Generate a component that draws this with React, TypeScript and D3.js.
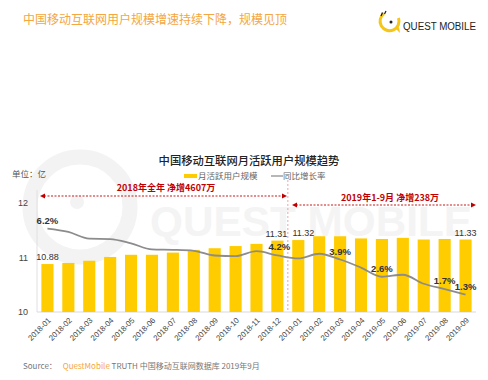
import React from "react";
import * as d3 from "d3";

const months = [
  "2018-01","2018-02","2018-03","2018-04","2018-05","2018-06","2018-07","2018-08","2018-09","2018-10","2018-11","2018-12",
  "2019-01","2019-02","2019-03","2019-04","2019-05","2019-06","2019-07","2019-08","2019-09",
];
const mau = [10.88, 10.9, 10.94, 11.01, 11.05, 11.05, 11.09, 11.14, 11.17, 11.21, 11.25, 11.31, 11.32, 11.39, 11.39, 11.35, 11.34, 11.36, 11.33, 11.34, 11.33];
const growth = [6.2, 5.95, 5.45, 5.42, 5.1, 4.65, 4.62, 4.55, 4.2, 4.15, 4.52, 4.2, 3.98, 4.33, 3.9, 3.3, 2.62, 2.77, 2.1, 1.7, 1.3];
const yTicks = [10, 11, 12];
const valueLabelIdx = [0, 11, 12, 20];
const growthLabels: [number, string][] = [[0, "6.2%"], [11, "4.2%"], [14, "3.9%"], [16, "2.6%"], [19, "1.7%"], [20, "1.3%"]];

const RED = "#C00000";
const YELLOW = "#FFCC00";
const CJK = "'Noto Sans CJK SC', 'Noto Sans', sans-serif";
const LAT = "Arial, 'Liberation Sans', 'Noto Sans', sans-serif";

export default function App() {
  const x = d3.scaleBand<string>().domain(months).range([37, 476]).paddingInner(0.42).paddingOuter(0.21);
  const y = d3.scaleLinear().domain([10, 12]).range([312, 203]);
  const y2 = d3.scaleLinear().domain([0, 8.1]).range([312, 203]);
  const cx = (i: number) => (x(months[i]) as number) + x.bandwidth() / 2;
  const line = d3.line<number>().x((_, i) => cx(i)).y((d) => y2(d)).curve(d3.curveMonotoneX);
  const splitX = ((x(months[11]) as number) + x.bandwidth() + (x(months[12]) as number)) / 2;

  const arrow = (px: number, py: number, dir: number) =>
    `M${px},${py} L${px - dir * 5},${py - 2.5} L${px - dir * 5},${py + 2.5} Z`;

  return (
    <svg width={488} height={380} style={{ display: "block", position: "absolute", left: 0, top: 0, background: "#fff" }}>
      {/* watermark */}
      <g fill="none" stroke="#f3f3f3">
        <circle cx={80} cy={207} r={50} strokeWidth={15} />
      </g>
      <circle cx={77} cy={202} r={7} fill="#f3f3f3" />
      <text x={150} y={236} fontFamily={LAT} fontWeight={700} fontSize={43} fill="#f4f4f4" textLength={322} lengthAdjust="spacingAndGlyphs">
        QUEST MOBILE
      </text>

      {/* header */}
      <text x={23} y={24} fontFamily={CJK} fontSize={12} fill="#F4A640">
        中国移动互联网用户规模增速持续下降，规模见顶
      </text>
      <g>
        <path d="M384,13.5 A9.5,9.5 0 1 0 398.5,18" fill="none" stroke="#F5C518" strokeWidth={3} />
        <path d="M396,29 L400,33 L399,27 Z" fill="#F5C518" />
        <line x1={381} y1={16} x2={382.5} y2={12.5} stroke="#222" strokeWidth={1.3} />
        <line x1={384.5} y1={14} x2={386} y2={11} stroke="#222" strokeWidth={1.3} />
        <circle cx={391} cy={22} r={1.5} fill="#222" />
        <text x={403} y={30} fontFamily={LAT} fontSize={10} fontWeight={500} fill="#222" textLength={73} lengthAdjust="spacingAndGlyphs">
          QUEST MOBILE
        </text>
      </g>

      {/* chart title & legend */}
      <text x={249} y={165} textAnchor="middle" fontFamily={CJK} fontSize={11.3} fontWeight={500} fill="#222">
        中国移动互联网月活跃用户规模趋势
      </text>
      <rect x={184} y={174} width={13} height={4} fill={YELLOW} />
      <text x={198} y={179} fontFamily={CJK} fontSize={8.5} fill="#666">月活跃用户规模</text>
      <line x1={271} y1={176} x2={283} y2={176} stroke="#888" strokeWidth={1.2} />
      <text x={283} y={179} fontFamily={CJK} fontSize={8.5} fill="#666">同比增长率</text>

      <text x={12} y={177} fontFamily={CJK} fontSize={8.5} fill="#555">单位：亿</text>

      {/* axes */}
      <line x1={37} y1={190} x2={37} y2={312} stroke="#e0e0e0" strokeWidth={1} />
      <line x1={37} y1={312} x2={476} y2={312} stroke="#d9d9d9" strokeWidth={1} />
      {yTicks.map((t) => (
        <text key={t} x={28} y={y(t) + 3} textAnchor="end" fontFamily={LAT} fontSize={9} fill="#444">{t}</text>
      ))}

      {/* bars */}
      {mau.map((v, i) => (
        <rect key={months[i]} x={x(months[i])} y={y(v)} width={x.bandwidth()} height={y(10) - y(v)} fill={YELLOW} />
      ))}

      {/* split line */}
      <line x1={splitX} y1={180} x2={splitX} y2={312} stroke="#E88A8A" strokeWidth={0.8} strokeDasharray="2,2" />

      {/* growth line */}
      <path d={line(growth) || ""} fill="none" stroke="#8c8c8c" strokeWidth={1.8} />

      {/* value labels */}
      {valueLabelIdx.map((i) => (
        <text key={"v" + i} x={cx(i) + (i === 12 ? 5 : i === 11 ? -1 : 0)} y={y(mau[i]) - 4} textAnchor="middle" fontFamily={LAT} fontSize={9} fill="#333">
          {mau[i].toFixed(2)}
        </text>
      ))}
      {growthLabels.map(([i, s]) => (
        <text key={"g" + i} x={cx(i) + (i === 11 ? 2 : 0)} y={y2(growth[i]) - 5} textAnchor="middle" fontFamily={LAT} fontSize={9.5} fontWeight={700} fill="#333">
          {s}
        </text>
      ))}

      {/* annotations */}
      <line x1={44} y1={196} x2={283} y2={196} stroke={RED} strokeWidth={0.9} strokeDasharray="2,1.5" />
      <path d={arrow(40, 196, -1)} fill={RED} />
      <path d={arrow(287, 196, 1)} fill={RED} />
      <text x={166} y={191} textAnchor="middle" fontFamily={CJK} fontSize={9} fontWeight={700} fill={RED}>2018年全年 净增4607万</text>
      <line x1={296} y1={205} x2={472} y2={205} stroke={RED} strokeWidth={0.9} strokeDasharray="2,1.5" />
      <path d={arrow(292, 205, -1)} fill={RED} />
      <path d={arrow(476, 205, 1)} fill={RED} />
      <text x={390} y={201} textAnchor="middle" fontFamily={CJK} fontSize={9} fontWeight={700} fill={RED}>2019年1-9月 净增238万</text>

      {/* x labels */}
      {months.map((m, i) => (
        <text key={"x" + m} transform={`translate(${cx(i) + 2},${319}) rotate(-45)`} textAnchor="end" dy="0.35em" fontFamily={LAT} fontSize={7.8} fill="#444">
          {m}
        </text>
      ))}

      {/* source */}
      <text x={23} y={369} fontFamily={CJK} fontSize={8} fill="#777">
        Source：<tspan dx={6} fill="#F4A640">QuestMobile</tspan>
        <tspan fill="#777"> TRUTH 中国移动互联网数据库 2019年9月</tspan>
      </text>
    </svg>
  );
}
